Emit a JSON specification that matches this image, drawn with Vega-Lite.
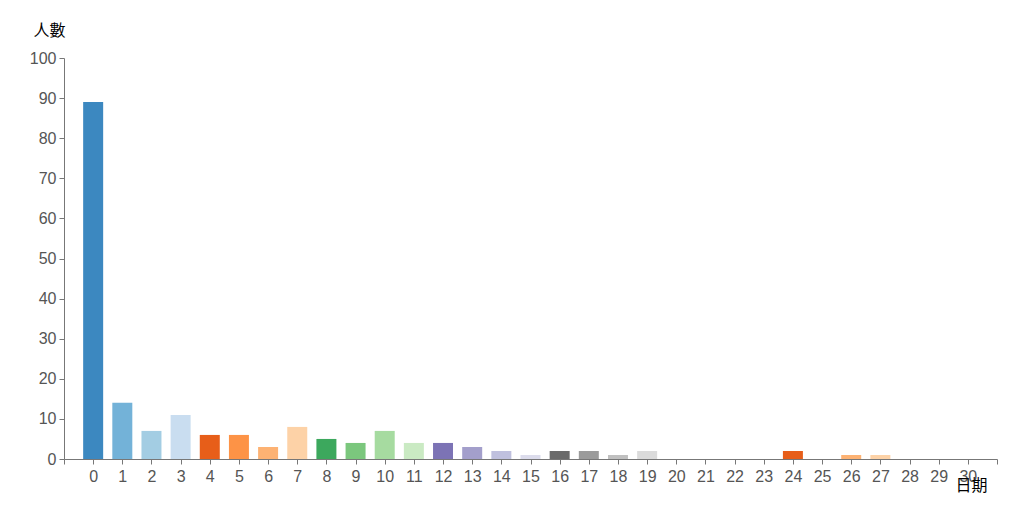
{
  "$schema": "https://vega.github.io/schema/vega-lite/v6.json",
  "autosize": "none",
  "width": 933,
  "height": 401,
  "padding": {"left": 64, "top": 58, "right": 27, "bottom": 52},
  "background": "white",
  "data": {"values": [
    {"day": 0, "count": 89}, {"day": 1, "count": 14}, {"day": 2, "count": 7}, {"day": 3, "count": 11},
    {"day": 4, "count": 6}, {"day": 5, "count": 6}, {"day": 6, "count": 3}, {"day": 7, "count": 8},
    {"day": 8, "count": 5}, {"day": 9, "count": 4}, {"day": 10, "count": 7}, {"day": 11, "count": 4},
    {"day": 12, "count": 4}, {"day": 13, "count": 3}, {"day": 14, "count": 2}, {"day": 15, "count": 1},
    {"day": 16, "count": 2}, {"day": 17, "count": 2}, {"day": 18, "count": 1}, {"day": 19, "count": 2},
    {"day": 20, "count": 0}, {"day": 21, "count": 0}, {"day": 22, "count": 0}, {"day": 23, "count": 0},
    {"day": 24, "count": 2}, {"day": 25, "count": 0}, {"day": 26, "count": 1}, {"day": 27, "count": 1},
    {"day": 28, "count": 0}, {"day": 29, "count": 0}, {"day": 30, "count": 0}
  ]},
  "mark": {"type": "bar", "width": 20, "opacity": 0.95},
  "encoding": {
    "x": {
      "field": "day", "type": "quantitative",
      "scale": {"domain": [-1, 31], "nice": false, "zero": false, "padding": 0},
      "axis": {
        "values": [-1,0,1,2,3,4,5,6,7,8,9,10,11,12,13,14,15,16,17,18,19,20,21,22,23,24,25,26,27,28,29,30,31],
        "labelExpr": "datum.value < 0 || datum.value > 30 ? '' : datum.label",
        "grid": false,
        "title": "日期",
        "titleAngle": 0,
        "titleX": 907,
        "titleY": 26,
        "titleAlign": "center",
        "titleBaseline": "middle",
        "titleFont": "Noto Sans CJK TC",
        "titleFontSize": 16,
        "titleFontWeight": "normal",
        "titleColor": "#000000",
        "labelFont": "Liberation Sans",
        "labelFontSize": 16,
        "labelColor": "#555555",
        "labelPadding": 4,
        "labelFlush": false,
        "labelOverlap": false,
        "domainColor": "#777777",
        "tickColor": "#777777",
        "tickSize": 5
      }
    },
    "y": {
      "field": "count", "type": "quantitative",
      "scale": {"domain": [0, 100], "nice": false},
      "axis": {
        "values": [0,10,20,30,40,50,60,70,80,90,100],
        "grid": false,
        "title": "人數",
        "titleAngle": 0,
        "titleX": -15,
        "titleY": -28,
        "titleAlign": "center",
        "titleBaseline": "middle",
        "titleFont": "Noto Sans CJK TC",
        "titleFontSize": 16,
        "titleFontWeight": "normal",
        "titleColor": "#000000",
        "labelFont": "Liberation Sans",
        "labelFontSize": 16,
        "labelColor": "#555555",
        "labelPadding": 3,
        "domainColor": "#777777",
        "tickColor": "#777777",
        "tickSize": 5
      }
    },
    "color": {
      "field": "day", "type": "nominal",
      "scale": {"domain": [0,1,2,3,4,5,6,7,8,9,10,11,12,13,14,15,16,17,18,19,20,21,22,23,24,25,26,27,28,29,30], "scheme": "category20c"},
      "legend": null
    }
  },
  "config": {"view": {"stroke": null}}
}
